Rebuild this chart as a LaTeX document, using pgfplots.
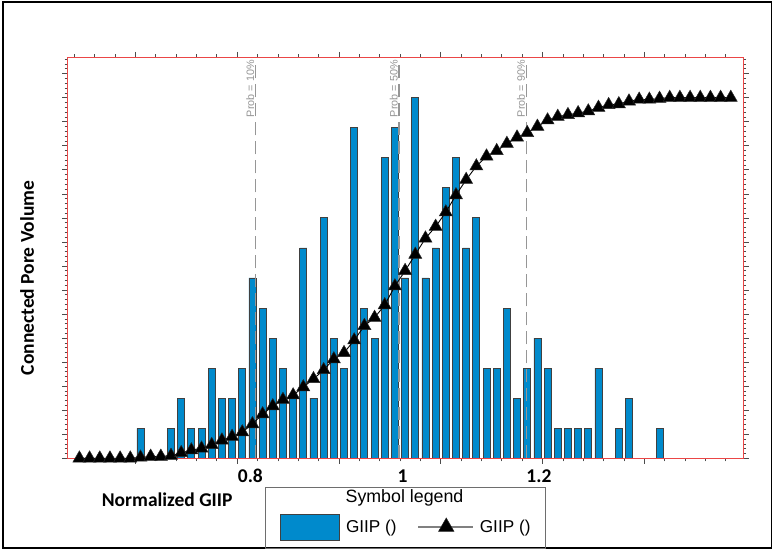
\documentclass[border=0pt]{standalone}
\usepackage{pgfplots}
\usepackage{pgfplotstable}
\pgfplotsset{compat=1.18}
\usepackage{fontspec}
\setmainfont{Liberation Sans}
\newfontfamily\calib{Carlito}

\definecolor{giipblue}{RGB}{0,138,204}
\definecolor{framered}{RGB}{235,70,70}
\definecolor{probgray}{RGB}{150,150,150}
\definecolor{legframe}{RGB}{110,110,110}

% Histogram of realisations: bin index and count (empty bins left out)
\pgfplotstableread{
k count
0 1
3 1
4 2
5 1
6 1
7 3
8 2
9 2
10 3
11 6
12 5
13 4
14 3
15 2
16 7
17 2
18 8
19 4
20 3
21 11
22 5
23 4
24 10
25 11
26 6
27 12
28 6
29 7
30 9
31 10
32 7
33 8
34 3
35 3
36 5
37 2
38 3
39 4
40 3
41 1
42 1
43 1
44 1
45 3
47 1
48 2
51 1
}\histtable

% Cumulative probability at each bin
\pgfplotstableread{
k cdf
-6 0
-5 0
-4 0
-3 0
-2 0
-1 0
0 0.0025
1 0.005
2 0.005
3 0.0075
4 0.015
5 0.0225
6 0.0275
7 0.0375
8 0.05
9 0.06
10 0.0725
11 0.095
12 0.1225
13 0.145
14 0.1625
15 0.175
16 0.1975
17 0.22
18 0.245
19 0.275
20 0.2925
21 0.3275
22 0.3675
23 0.39
24 0.425
25 0.4775
26 0.52
27 0.565
28 0.61
29 0.6425
30 0.6825
31 0.73
32 0.7725
33 0.81
34 0.8375
35 0.8525
36 0.8725
37 0.89
38 0.9025
39 0.92
40 0.9375
41 0.9475
42 0.9525
43 0.9575
44 0.9625
45 0.9725
46 0.98
47 0.9825
48 0.99
49 0.995
50 0.995
51 0.9975
52 1
53 1
54 1
55 1
56 1
57 1
58 1
}\cdftable

\begin{document}
\begin{tikzpicture}
% page and outer frame
\fill[white] (0pt,0pt) rectangle (777pt,550pt);
\draw[black, line width=1.8pt] (3.3pt,1.8pt) rectangle (771.5pt,548.3pt);

% histogram axis
\begin{axis}[
  at={(67.7pt,91.7pt)}, anchor=south west,
  scale only axis, width=675.3pt, height=401pt,
  xmin=-7.15, xmax=59.2, ymin=0, ymax=13.344,
  axis line style={draw=framered, line width=1pt},
  xtick={-0.5,9.5,19.5,29.5,39.5,49.5},
  minor xtick={-6.5,-4.5,...,57.5},
  ytick={0,0.8,...,12.9},
  minor ytick={0,0.16,...,13.3},
  tick align=outside,
  major tick length=5.5pt, minor tick length=3pt,
  tick style={black!70, line width=0.7pt},
  xticklabels={}, yticklabels={},
  extra x ticks={10.8,25.75,39.15},
  extra x tick style={major tick length=0pt, xticklabels={0.8,1,1.2},
    xticklabel style={font=\calib\bfseries\fontsize{19.5}{19.5}\selectfont,
      text=black, inner sep=0pt, yshift=-11pt}},
  clip=false,
]
\addplot[ybar, bar width=7pt, fill=giipblue, draw=black!75, line width=0.8pt]
  table[x=k, y=count] {\histtable};

% probability markers
\addplot[probgray, line width=1.4pt, dash pattern=on 13pt off 6pt] coordinates {(11.3,0) (11.3,13.25)};
\addplot[probgray, line width=1.4pt, dash pattern=on 13pt off 6pt] coordinates {(25.4,0) (25.4,13.25)};
\addplot[probgray, line width=1.4pt, dash pattern=on 13pt off 6pt] coordinates {(37.9,0) (37.9,13.25)};
\node[rotate=90, anchor=south east, inner sep=0pt,
      font=\fontsize{10.8}{12}\selectfont, text=probgray]
  at (axis cs:11.2,13.25) {Prob = 10\%};
\node[rotate=90, anchor=south east, inner sep=0pt,
      font=\fontsize{10.8}{12}\selectfont, text=probgray]
  at (axis cs:25.3,13.25) {Prob = 50\%};
\node[rotate=90, anchor=south east, inner sep=0pt,
      font=\fontsize{10.8}{12}\selectfont, text=probgray]
  at (axis cs:37.8,13.25) {Prob = 90\%};

% plot frame
\draw[framered, line width=1pt] (rel axis cs:0,0) rectangle (rel axis cs:1,1);
\end{axis}

% cumulative curve axis
\begin{axis}[
  at={(67.7pt,91.7pt)}, anchor=south west,
  scale only axis, width=675.3pt, height=401pt,
  xmin=-7.15, xmax=59.2, ymin=0, ymax=1.112,
  hide axis,
  legend columns=2,
  legend cell align=left,
  legend style={at={(axis description cs:0.3144,-0.1713)}, anchor=west,
    draw=none, fill=none, inner sep=0pt,
    font=\fontsize{17.2}{20}\selectfont,
    /tikz/every odd column/.append style={column sep=4pt},
    /tikz/every even column/.append style={column sep=19pt}},
]
\addlegendimage{legend image code/.code={
  \draw[fill=giipblue, draw=black!75, line width=0.8pt] (0pt,-13pt) rectangle (59pt,13pt);}}
\addlegendentry{GIIP ()}
\addplot[black, line width=0.9pt, mark=triangle*, mark size=7.5pt,
  mark options={fill=black, draw=black!85, line width=0.5pt},
  legend image code/.code={
    \draw[gray, line width=1.2pt] (0pt,0pt) -- (55pt,0pt);
    \draw[black] plot[mark=triangle*, mark size=9pt] coordinates {(28pt,0pt)};}]
  table[x=k, y=cdf] {\cdftable};
\addlegendentry{GIIP ()}
\end{axis}

% axis titles and legend frame
\node[rotate=90, font=\calib\bfseries\fontsize{19.5}{19.5}\selectfont] at (27pt,272pt) {Connected Pore Volume};
\node[font=\calib\bfseries\fontsize{19.5}{19.5}\selectfont] at (167.2pt,50pt) {Normalized GIIP};
\draw[legframe, line width=0.9pt] (265pt,1.8pt) rectangle (545pt,62.3pt);
\node[inner sep=0pt, font=\fontsize{17.8}{20}\selectfont] at (404.5pt,52.6pt) {Symbol legend};
\end{tikzpicture}
\end{document}
